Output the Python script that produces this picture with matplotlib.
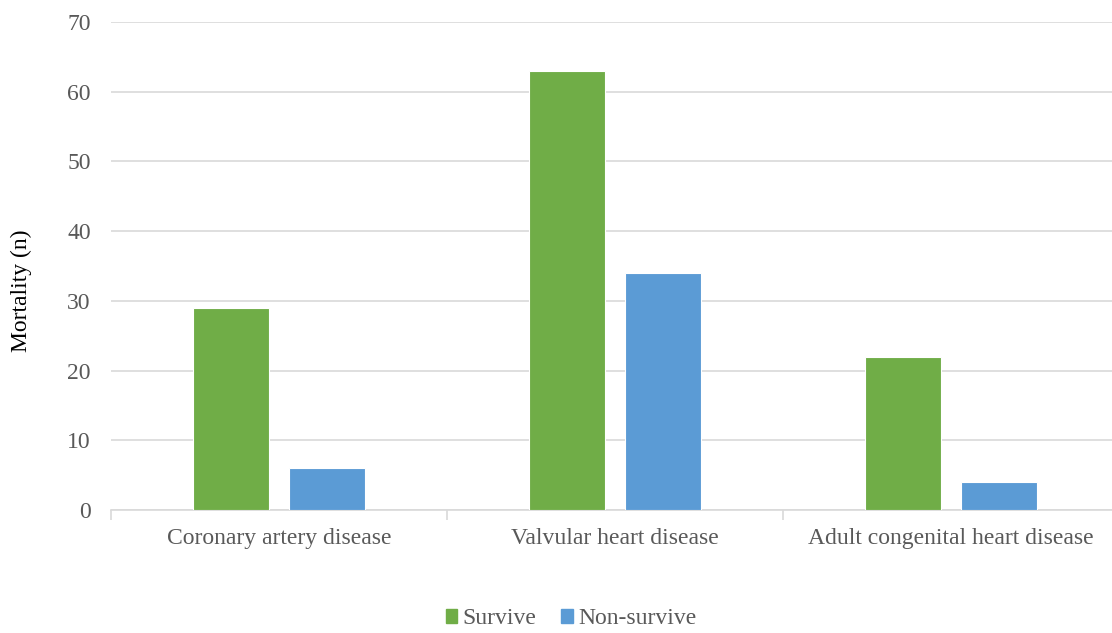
import numpy as np
import matplotlib.pyplot as plt
from matplotlib.patches import Patch

categories = ['Coronary artery disease', 'Valvular heart disease', 'Adult congenital heart disease']
survive = [29, 63, 22]
non_survive = [6, 34, 4]

green = '#70AD47'
blue = '#5B9BD5'
grey = '#595959'

plt.rcParams['font.family'] = ['Liberation Serif', 'DejaVu Serif']

fig = plt.figure(figsize=(11.12, 6.33), dpi=100)
ax = fig.add_axes([111/1112, 123/633, 1008/1112, 488/633])

x = np.arange(len(categories)) + 0.5
w = 0.226
off = 0.143
ax.bar(x - off, survive, w, color=green, edgecolor='white', linewidth=0.8, zorder=3)
ax.bar(x + off, non_survive, w, color=blue, edgecolor='white', linewidth=0.8, zorder=3)

ax.set_xlim(0, 3)
ax.set_ylim(0, 70)
ax.set_yticks(np.arange(0, 71, 10))
ax.yaxis.grid(True, color='#D9D9D9', linewidth=1.2, zorder=0)
ax.set_axisbelow(True)

ax.set_xticks(x)
ax.set_xticklabels(categories)
ax.set_xticks([0, 1, 2, 3], minor=True)
ax.tick_params(axis='x', which='major', length=0, pad=13, labelsize=17, labelcolor=grey)
ax.tick_params(axis='x', which='minor', length=7, color='#D9D9D9', width=1.2)
ax.tick_params(axis='y', length=0, pad=14.5, labelsize=17, labelcolor=grey)

for s in ['top', 'right', 'left']:
    ax.spines[s].set_visible(False)
ax.spines['bottom'].set_color('#D9D9D9')
ax.spines['bottom'].set_linewidth(1.2)

ax.set_ylabel('Mortality (n)', fontsize=17, color='black')
ax.yaxis.set_label_coords(-0.078, 0.449)

handles = [Patch(color=green, label='Survive'), Patch(color=blue, label='Non-survive')]
fig.legend(handles=handles, loc='center', bbox_to_anchor=(571/1112, 1 - 619/633), ncol=2,
           frameon=False, fontsize=17, labelcolor=grey, handlelength=0.5, handleheight=0.5,
           handletextpad=0.22, columnspacing=1.05)

fig.savefig('out.png', dpi=100)
